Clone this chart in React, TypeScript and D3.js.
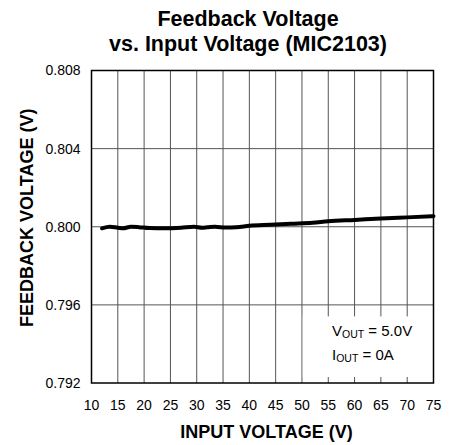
import React from "react";
import * as d3 from "d3";

const W = 461;
const H = 445;
const MARGIN = { top: 70.5, right: 27.5, bottom: 62, left: 91.5 };

// x ticks / y ticks
const xTicks = [10, 15, 20, 25, 30, 35, 40, 45, 50, 55, 60, 65, 70, 75];
const yTicks = [0.792, 0.796, 0.8, 0.804, 0.808];

const inputVoltage = [
  12, 13.5, 15, 16, 17.5, 19, 21, 24, 27, 29.5, 31, 32, 33.5, 35.5, 37.5, 40,
  44, 48, 52, 55, 60, 65, 70, 75,
];
const feedbackVoltage = [
  0.79992, 0.8, 0.79995, 0.79992, 0.8, 0.79998, 0.79993, 0.79992, 0.79995,
  0.8, 0.79995, 0.79997, 0.8, 0.79996, 0.79997, 0.80005, 0.8001, 0.80015,
  0.8002, 0.80028, 0.80035, 0.80042, 0.80048, 0.80054,
];

const FONT = "'Liberation Sans', Arial, Helvetica, sans-serif";

const App = () => {
  const x0 = MARGIN.left;
  const x1 = W - MARGIN.right;
  const y0 = MARGIN.top;
  const y1 = H - MARGIN.bottom;

  const xScale = d3.scaleLinear().domain([10, 75]).range([x0, x1]);
  const yScale = d3.scaleLinear().domain([0.792, 0.808]).range([y1, y0]);

  const points = inputVoltage.map((v, i) => [v, feedbackVoltage[i]] as [number, number]);
  const linePath = d3
    .line<[number, number]>()
    .x((d) => xScale(d[0]))
    .y((d) => yScale(d[1]))
    .curve(d3.curveMonotoneX)(points);

  // legend box sits between the 0.796 line and the bottom ticks, from x=50 to the right edge
  const boxX = xScale(50) + 0.8;
  const boxY = yScale(0.796) + 11.5;
  const boxW = x1 - boxX - 0.8;
  const boxH = y1 - 6 - boxY;

  return (
    <svg
      width={W}
      height={H}
      style={{ position: "absolute", left: 0, top: 0, background: "#fff" }}
      fontFamily={FONT}
    >
      <rect x={0} y={0} width={W} height={H} fill="#fff" />

      <text x={248} y={26} textAnchor="middle" fontSize={21.5} fontWeight="bold">
        Feedback Voltage
      </text>
      <text x={248} y={50.5} textAnchor="middle" fontSize={21.5} fontWeight="bold">
        vs. Input Voltage (MIC2103)
      </text>

      {/* grid */}
      <g stroke="#555" strokeWidth={1}>
        {xTicks.slice(1, -1).map((t) => (
          <line key={t} x1={xScale(t)} x2={xScale(t)} y1={y0} y2={y1} />
        ))}
        {yTicks.slice(1, -1).map((t) => (
          <line key={t} x1={x0} x2={x1} y1={yScale(t)} y2={yScale(t)} />
        ))}
      </g>

      <rect x={boxX} y={boxY} width={boxW} height={boxH} fill="#fff" />

      <path
        d={linePath || ""}
        fill="none"
        stroke="#000"
        strokeWidth={4}
        strokeLinecap="round"
        strokeLinejoin="round"
      />

      <rect x={x0} y={y0} width={x1 - x0} height={y1 - y0} fill="none" stroke="#000" strokeWidth={1.5} />

      {/* tick labels */}
      <g fontSize={14} fill="#000">
        {yTicks.map((t) => (
          <text key={t} x={x0 - 11} y={yScale(t)} dy="0.35em" textAnchor="end">
            {t.toFixed(3)}
          </text>
        ))}
        {xTicks.map((t) => (
          <text key={t} x={xScale(t)} y={410} textAnchor="middle">
            {t}
          </text>
        ))}
      </g>

      <text x={(x0 + x1) / 2 + 4} y={438} textAnchor="middle" fontSize={18} fontWeight="bold">
        INPUT VOLTAGE (V)
      </text>
      <text
        transform={`translate(33, ${(y0 + y1) / 2 - 9}) rotate(-90)`}
        textAnchor="middle"
        fontSize={18}
        fontWeight="bold"
      >
        FEEDBACK VOLTAGE (V)
      </text>

      {/* legend */}
      <g fontSize={15}>
        <text x={332} y={336}>
          V<tspan fontSize={10.5} dy={2}>OUT</tspan>
          <tspan dy={-2}> = 5.0V</tspan>
        </text>
        <text x={332} y={360}>
          I<tspan fontSize={10.5} dy={2}>OUT</tspan>
          <tspan dy={-2}> = 0A</tspan>
        </text>
      </g>
    </svg>
  );
};

export default App;
